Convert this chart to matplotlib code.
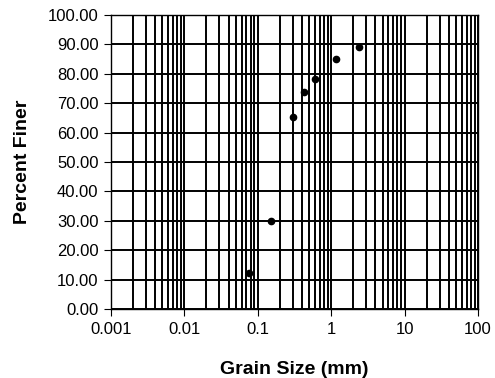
import numpy as np
import matplotlib.pyplot as plt
from matplotlib.ticker import FormatStrFormatter, LogLocator, FixedLocator

plt.rcParams['font.family'] = ['Liberation Sans', 'DejaVu Sans']

# sieve analysis data
grain_size = [0.075, 0.15, 0.30, 0.425, 0.60, 1.18, 2.36]
percent_finer = [12.3, 30.1, 65.2, 73.9, 78.1, 84.9, 89.0]

x_ticks = [0.001, 0.01, 0.1, 1, 10, 100]
x_tick_labels = ['0.001', '0.01', '0.1', '1', '10', '100']

fig = plt.figure(figsize=(4.95, 3.78), dpi=100)
ax = fig.add_axes([111 / 495, 1 - 309 / 378, 367 / 495, 294 / 378])

ax.plot(grain_size, percent_finer, 'o', color='black', markersize=4.5, zorder=3)

ax.set_xscale('log')
ax.set_xlim(0.001, 100)
ax.set_ylim(0, 100)

ax.xaxis.set_major_locator(FixedLocator(x_ticks))
ax.set_xticklabels(x_tick_labels)
ax.xaxis.set_minor_locator(LogLocator(base=10, subs=np.arange(2, 10)))
ax.set_yticks(np.arange(0, 101, 10))
ax.yaxis.set_major_formatter(FormatStrFormatter('%.2f'))

ax.grid(True, which='both', axis='x', color='black', linewidth=1.4)
ax.grid(True, which='major', axis='y', color='black', linewidth=1.4)
ax.tick_params(axis='x', which='minor', length=0)
ax.tick_params(axis='both', which='major', direction='out', length=5,
               labelsize=12, width=0.8, colors='black', pad=4)

for s in ax.spines.values():
    s.set_color('black')
    s.set_linewidth(1.0)

ax.set_xlabel('Grain Size (mm)', fontsize=14, fontweight='bold', labelpad=18)
ax.set_ylabel('Percent Finer', fontsize=14, fontweight='bold', labelpad=12)

fig.savefig('out.png', dpi=100)
